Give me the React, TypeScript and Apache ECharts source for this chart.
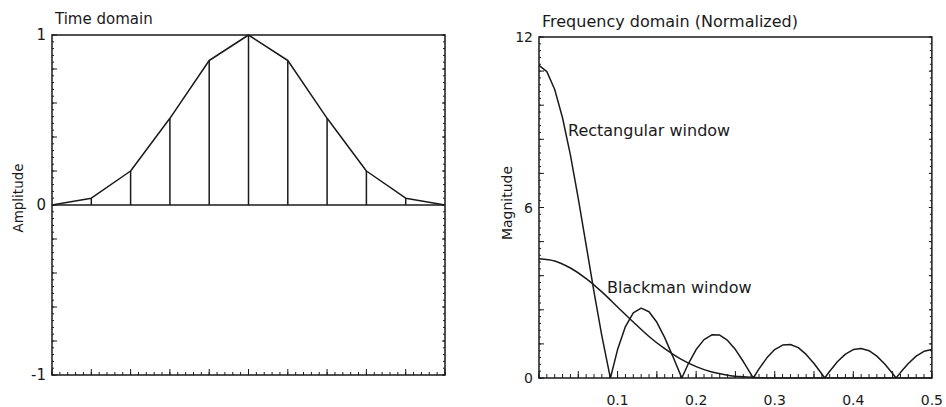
import React, { useEffect, useRef } from "react";
import * as echarts from "echarts";

// ---- Time domain (11-point window) ----
const timeIndex = [0, 1, 2, 3, 4, 5, 6, 7, 8, 9, 10];
const timeAmplitude = [0, 0.04, 0.2, 0.51, 0.85, 1, 0.85, 0.51, 0.2, 0.04, 0];

// ---- Frequency domain: rectangular window ----
const rectFreq = [
  0, 0.01, 0.02, 0.03, 0.04, 0.05, 0.06, 0.07, 0.08, 0.09, 0.0909,
  0.1, 0.11, 0.12, 0.13, 0.14, 0.15, 0.16, 0.17, 0.18, 0.1818,
  0.19, 0.2, 0.21, 0.22, 0.23, 0.24, 0.25, 0.26, 0.27, 0.2727,
  0.28, 0.29, 0.3, 0.31, 0.32, 0.33, 0.34, 0.35, 0.36, 0.3636,
  0.37, 0.38, 0.39, 0.4, 0.41, 0.42, 0.43, 0.44, 0.45, 0.4545,
  0.46, 0.47, 0.48, 0.49, 0.5,
];
const rectMagnitude = [
  11, 10.78, 10.15, 9.15, 7.84, 6.31, 4.68, 3.03, 1.48, 0.11, 0,
  1.0, 1.81, 2.29, 2.46, 2.33, 1.96, 1.42, 0.78, 0.12, 0,
  0.5, 1.0, 1.35, 1.52, 1.51, 1.32, 1.0, 0.58, 0.13, 0,
  0.32, 0.71, 1.0, 1.16, 1.18, 1.07, 0.83, 0.51, 0.14, 0,
  0.24, 0.58, 0.84, 1.0, 1.04, 0.96, 0.77, 0.49, 0.16, 0,
  0.19, 0.51, 0.77, 0.94, 1.0,
];

// ---- Frequency domain: Blackman window ----
const blackFreq = [
  0, 0.02, 0.04, 0.06, 0.08, 0.1, 0.12, 0.14, 0.16, 0.18, 0.2, 0.22, 0.24,
  0.26, 0.28, 0.3, 0.35, 0.4, 0.45, 0.5,
];
const blackMagnitude = [
  4.2, 4.12, 3.87, 3.5, 3.03, 2.5, 1.97, 1.46, 1.03, 0.67, 0.4, 0.21, 0.1,
  0.04, 0.01, 0, 0, 0, 0, 0,
];

// ---- Axis ranges ----
const TIME_X = [0, 10];
const TIME_Y = [-1, 1];
const FREQ_X = [0, 0.5];
const FREQ_Y = [0, 12];

const INK = "#1a1a1a";
const FONT = "DejaVu Sans";

// evenly spaced axis tick positions (axis decoration, not data)
function tickRange(a: number, b: number, step: number): number[] {
  const out: number[] = [];
  const n = Math.round((b - a) / step);
  for (let i = 0; i <= n; i++) out.push(+(a + i * step).toFixed(6));
  return out;
}

// custom series drawing tick marks along the bottom edge (inside)
function xTickSeries(grid: number, values: number[], len: number, yEdge: number) {
  return {
    type: "custom", xAxisIndex: grid, yAxisIndex: grid, silent: true, clip: false, z: 5,
    data: values.map((v) => [v, len]),
    renderItem: (_p: any, api: any) => {
      const p = api.coord([api.value(0), yEdge]);
      return {
        type: "line",
        shape: { x1: p[0], y1: p[1], x2: p[0], y2: p[1] - api.value(1) },
        style: { stroke: INK, lineWidth: 1 },
      };
    },
  };
}

// custom series drawing tick marks along a vertical edge (inside)
function yTickSeries(grid: number, values: number[], len: number, xEdge: number, dir: number) {
  return {
    type: "custom", xAxisIndex: grid, yAxisIndex: grid, silent: true, clip: false, z: 5,
    data: values.map((v) => [len, v]),
    renderItem: (_p: any, api: any) => {
      const p = api.coord([xEdge, api.value(1)]);
      return {
        type: "line",
        shape: { x1: p[0], y1: p[1], x2: p[0] + dir * api.value(0), y2: p[1] },
        style: { stroke: INK, lineWidth: 1 },
      };
    },
  };
}

export default function App() {
  const ref = useRef<HTMLDivElement>(null);

  useEffect(() => {
    if (!ref.current) return;
    const chart = echarts.init(ref.current, null, { renderer: "svg" });

    const leftYFormatter = (v: number) =>
      Math.abs(v - Math.round(v)) < 1e-6 ? String(Math.round(v)) : "";
    const rightYFormatter = (v: number) => {
      const r = Math.round(v / 6) * 6;
      return Math.abs(v - r) < 1e-6 ? String(r) : "";
    };
    const rightXFormatter = (v: number) => {
      const k = Math.round(v * 10);
      return Math.abs(v * 10 - k) < 1e-6 && k > 0 ? (k / 10).toFixed(1) : "";
    };

    const axisBase = {
      type: "value",
      axisLine: { show: false, onZero: false },
      axisTick: { show: false },
      minorTick: { show: false },
      splitLine: { show: false },
    };

    const option: any = {
      animation: false,
      backgroundColor: "#ffffff",
      grid: [
        { left: 52, top: 35, width: 393, height: 340, show: true, borderColor: INK, borderWidth: 1.5 },
        { left: 539, top: 37, width: 396, height: 341, show: true, borderColor: INK, borderWidth: 1.5 },
      ],
      xAxis: [
        { ...axisBase, gridIndex: 0, min: TIME_X[0], max: TIME_X[1], interval: 1, axisLabel: { show: false } },
        {
          ...axisBase, gridIndex: 1, min: FREQ_X[0], max: FREQ_X[1], interval: 0.1,
          axisLabel: { color: INK, fontFamily: FONT, fontSize: 14, margin: 15, formatter: rightXFormatter },
        },
      ],
      yAxis: [
        {
          ...axisBase, gridIndex: 0, min: TIME_Y[0], max: TIME_Y[1], interval: 1,
          axisLabel: { color: INK, fontFamily: FONT, fontSize: 15, margin: 6, formatter: leftYFormatter },
        },
        {
          ...axisBase, gridIndex: 1, min: FREQ_Y[0], max: FREQ_Y[1], interval: 6,
          axisLabel: { color: INK, fontFamily: FONT, fontSize: 14, margin: 6, formatter: rightYFormatter },
        },
      ],
      series: [
        // tick marks, time domain
        xTickSeries(0, tickRange(0, 10, 0.2), 3, TIME_Y[0]),
        xTickSeries(0, tickRange(0, 10, 1), 6, TIME_Y[0]),
        yTickSeries(0, tickRange(-1, 1, 0.04), 2, TIME_X[0], 1),
        yTickSeries(0, tickRange(-1, 1, 0.2), 5, TIME_X[0], 1),
        yTickSeries(0, tickRange(-1, 1, 0.04), 2, TIME_X[1], -1),
        yTickSeries(0, tickRange(-1, 1, 0.2), 3, TIME_X[1], -1),
        // tick marks, frequency domain
        xTickSeries(1, tickRange(0, 0.5, 0.01), 4, FREQ_Y[0]),
        xTickSeries(1, tickRange(0, 0.5, 0.05), 7, FREQ_Y[0]),
        yTickSeries(1, tickRange(0, 12, 0.24), 2, FREQ_X[0], 1),
        yTickSeries(1, tickRange(0, 12, 1.2), 5, FREQ_X[0], 1),
        yTickSeries(1, tickRange(0, 12, 0.24), 2, FREQ_X[1], -1),
        yTickSeries(1, tickRange(0, 12, 1.2), 3, FREQ_X[1], -1),
        // baseline of the stems
        {
          type: "line", xAxisIndex: 0, yAxisIndex: 0,
          data: [[timeIndex[0], 0], [timeIndex[timeIndex.length - 1], 0]],
          showSymbol: false, lineStyle: { color: INK, width: 1.5 }, silent: true,
        },
        // stems
        {
          type: "custom", xAxisIndex: 0, yAxisIndex: 0,
          data: timeIndex.map((x, i) => [x, timeAmplitude[i]]),
          renderItem: (_p: any, api: any) => {
            const top = api.coord([api.value(0), api.value(1)]);
            const base = api.coord([api.value(0), 0]);
            return {
              type: "line",
              shape: { x1: base[0], y1: base[1], x2: top[0], y2: top[1] },
              style: { stroke: INK, lineWidth: 1.5 },
            };
          },
        },
        // envelope
        {
          type: "line", xAxisIndex: 0, yAxisIndex: 0,
          data: timeIndex.map((x, i) => [x, timeAmplitude[i]]),
          showSymbol: false, lineStyle: { color: INK, width: 1.5 },
        },
        {
          type: "line", name: "Rectangular window", xAxisIndex: 1, yAxisIndex: 1,
          data: rectFreq.map((f, i) => [f, rectMagnitude[i]]),
          showSymbol: false, lineStyle: { color: INK, width: 1.5 },
        },
        {
          type: "line", name: "Blackman window", xAxisIndex: 1, yAxisIndex: 1,
          data: blackFreq.map((f, i) => [f, blackMagnitude[i]]),
          showSymbol: false, smooth: 0.3, lineStyle: { color: INK, width: 1.5 },
        },
      ],
      graphic: [
        { type: "text", left: 55, top: 11, style: { text: "Time domain", fill: INK, font: `15px '${FONT}'` } },
        { type: "text", left: 542, top: 13, style: { text: "Frequency domain (Normalized)", fill: INK, font: `16px '${FONT}'` } },
        { type: "text", x: 18, y: 198, rotation: Math.PI / 2, style: { text: "Amplitude", fill: INK, font: `13.5px '${FONT}'`, align: "center", verticalAlign: "middle" } },
        { type: "text", x: 507, y: 203, rotation: Math.PI / 2, style: { text: "Magnitude", fill: INK, font: `14px '${FONT}'`, align: "center", verticalAlign: "middle" } },
        { type: "text", x: 568, y: 130, style: { text: "Rectangular window", fill: INK, font: `16px '${FONT}'`, verticalAlign: "middle" } },
        { type: "text", x: 607, y: 287, style: { text: "Blackman window", fill: INK, font: `16px '${FONT}'`, verticalAlign: "middle" } },
      ],
    };

    chart.setOption(option);
    return () => chart.dispose();
  }, []);

  return (
    <div
      ref={ref}
      style={{ position: "fixed", left: 0, top: 0, width: 946, height: 407, background: "#fff" }}
    />
  );
}
